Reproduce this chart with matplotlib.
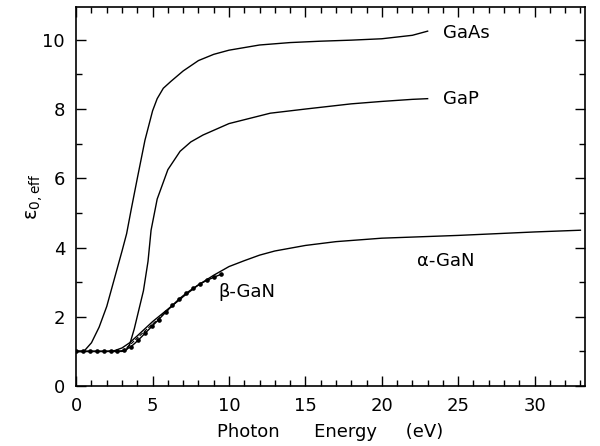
import matplotlib
matplotlib.use("Agg")
import matplotlib.pyplot as plt
from matplotlib.ticker import MultipleLocator

# Datos (energia en eV, epsilon efectiva)
e_gaas = [0, 0.5, 1, 1.5, 2, 2.5, 3, 3.3, 3.6, 4, 4.5, 5, 5.3, 5.7, 6.2, 7, 8, 9, 10, 12, 14, 16, 18, 20, 21, 22, 23]
eps_gaas = [1.0, 1.0, 1.25, 1.7, 2.3, 3.1, 3.9, 4.4, 5.1, 6.0, 7.1, 7.95, 8.3, 8.6, 8.8, 9.1, 9.4, 9.58, 9.7, 9.85, 9.92, 9.96, 9.99, 10.03, 10.08, 10.13, 10.25]

e_gap = [0, 1, 2, 3, 3.3, 3.5, 3.8, 4.1, 4.4, 4.7, 4.9, 5.3, 6, 6.8, 7.5, 8.3, 10, 12.7, 15, 18, 20, 22, 23]
eps_gap = [1.0, 1.0, 1.0, 1.0, 1.05, 1.2, 1.65, 2.2, 2.75, 3.6, 4.5, 5.4, 6.25, 6.78, 7.05, 7.25, 7.58, 7.88, 8.0, 8.15, 8.22, 8.28, 8.3]

e_agan = [0, 1, 2, 2.5, 3, 3.5, 4, 5, 6, 7, 8, 9, 10, 11, 12, 13, 15, 17, 20, 25, 30, 33]
eps_agan = [1.0, 1.0, 1.0, 1.02, 1.1, 1.25, 1.45, 1.86, 2.22, 2.58, 2.92, 3.2, 3.45, 3.62, 3.78, 3.9, 4.06, 4.17, 4.27, 4.35, 4.45, 4.5]

e_bgan = [0, 0.45, 0.9, 1.35, 1.8, 2.25, 2.7, 3.15, 3.6, 4.05, 4.5, 4.95, 5.4, 5.85, 6.3, 6.75, 7.2, 7.65, 8.1, 8.55, 9.0, 9.5]
eps_bgan = [1.0, 1.0, 1.0, 1.0, 1.0, 1.0, 1.0, 1.03, 1.14, 1.32, 1.52, 1.72, 1.92, 2.13, 2.33, 2.52, 2.68, 2.82, 2.95, 3.05, 3.14, 3.23]

e_bgan2 = [3.0, 3.5, 4, 4.5, 5, 5.5, 6, 6.5, 7]
eps_bgan2 = [1.0, 1.18, 1.39, 1.59, 1.79, 1.99, 2.19, 2.4, 2.58]

plt.rcParams['font.family'] = 'DejaVu Sans'
fig = plt.figure(figsize=(6, 4.46), dpi=100)
ax = fig.add_axes([0.127, 0.1345, 0.848, 0.85])

ax.plot(e_gaas, eps_gaas, color="black", lw=1)
ax.plot(e_gap, eps_gap, color="black", lw=1)
ax.plot(e_agan, eps_agan, color="black", lw=1)
ax.plot(e_bgan, eps_bgan, color="black", lw=1, marker="o", ms=2.3)
ax.plot(e_bgan2, eps_bgan2, color="black", lw=0.8, ls="--")

# etiquetas de las curvas
ax.text(24.0, 10.2, "GaAs", fontsize=13, va="center")
ax.text(24.0, 8.3, "GaP", fontsize=13, va="center")
ax.text(22.3, 3.6, "α-GaN", fontsize=13, va="center")
ax.text(9.3, 2.72, "β-GaN", fontsize=13, va="center")

ax.set_xlim(0, 33.3)
ax.set_ylim(0, 10.95)
ax.xaxis.set_major_locator(MultipleLocator(5))
ax.xaxis.set_minor_locator(MultipleLocator(1))
ax.yaxis.set_major_locator(MultipleLocator(2))
ax.yaxis.set_minor_locator(MultipleLocator(1))
ax.tick_params(which="both", direction="in", top=True, right=True, labelsize=13, width=1)
ax.tick_params(which="major", length=7, pad=8)
ax.tick_params(which="minor", length=4)
for s in ax.spines.values():
    s.set_linewidth(1.2)

ax.set_xlabel("Photon      Energy     (eV)", fontsize=13, labelpad=6)
ax.set_ylabel("ε$_{0,\\mathrm{eff}}$", fontsize=14, labelpad=-2)

fig.savefig("out.png", dpi=100)
